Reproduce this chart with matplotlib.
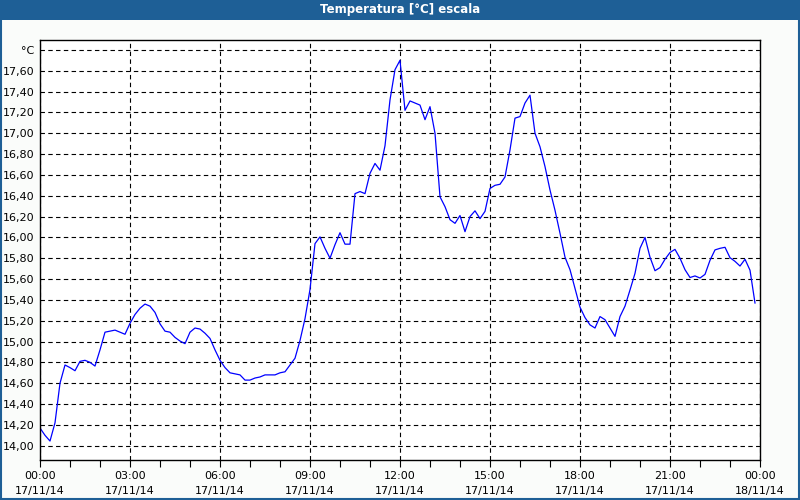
import matplotlib
matplotlib.use("Agg")
import matplotlib.pyplot as plt
from matplotlib.patches import Rectangle

# Readings every 10 minutes, 17/11/14 00:00 .. 23:50
times = [f"{h:02d}:{m:02d}" for h in range(24) for m in range(0, 60, 10)]
temps = [
    14.17, 14.10, 14.045, 14.22, 14.60, 14.775,
    14.75, 14.72, 14.81, 14.82, 14.80, 14.765,
    14.92, 15.09, 15.10, 15.11, 15.09, 15.07,
    15.175, 15.26, 15.32, 15.36, 15.34, 15.28,
    15.17, 15.10, 15.09, 15.04, 15.005, 14.98,
    15.09, 15.13, 15.12, 15.08, 15.03, 14.92,
    14.82, 14.75, 14.70, 14.69, 14.68, 14.63,
    14.63, 14.65, 14.66, 14.68, 14.68, 14.68,
    14.70, 14.71, 14.775, 14.84, 15.01, 15.22,
    15.50, 15.94, 16.005, 15.895, 15.80, 15.93,
    16.045, 15.935, 15.935, 16.42, 16.44, 16.42,
    16.615, 16.71, 16.645, 16.88, 17.32, 17.61,
    17.70, 17.22, 17.31, 17.29, 17.27, 17.13,
    17.255, 17.00, 16.39, 16.295, 16.17, 16.135,
    16.21, 16.055, 16.20, 16.255, 16.18, 16.25,
    16.47, 16.50, 16.51, 16.58, 16.84, 17.145,
    17.16, 17.29, 17.365, 17.00, 16.87, 16.68,
    16.455, 16.26, 16.04, 15.81, 15.69, 15.51,
    15.33, 15.23, 15.16, 15.13, 15.24, 15.21,
    15.13, 15.05, 15.24, 15.34, 15.495, 15.655,
    15.895, 16.00, 15.81, 15.68, 15.71, 15.79,
    15.855, 15.885, 15.80, 15.69, 15.615, 15.63,
    15.61, 15.645, 15.78, 15.88, 15.895, 15.905,
    15.805, 15.77, 15.725, 15.79, 15.685, 15.37,
]

xtick_hours = [0, 3, 6, 9, 12, 15, 18, 21, 24]
xtick_labels = ["00:00\n17/11/14", "03:00\n17/11/14", "06:00\n17/11/14",
                "09:00\n17/11/14", "12:00\n17/11/14", "15:00\n17/11/14",
                "18:00\n17/11/14", "21:00\n17/11/14", "00:00\n18/11/14"]
ytick_vals = [14.0 + 0.2 * i for i in range(20)]
ytick_labels = [f"{v:.2f}".replace(".", ",") for v in ytick_vals[:-1]] + ["°C"]

hours = [int(t[:2]) + int(t[3:]) / 60 for t in times]

plt.rcParams["font.family"] = "DejaVu Sans"
fig = plt.figure(figsize=(8, 5), dpi=100, facecolor="#fafcfa")

# title bar and window border
fig.patches.append(Rectangle((0, 0.96), 1, 0.04, transform=fig.transFigure,
                             facecolor="#1e5f96", edgecolor="none", zorder=0))
fig.patches.append(Rectangle((0.001, 0.002), 0.998, 0.996, transform=fig.transFigure,
                             facecolor="none", edgecolor="#1e5f96", linewidth=1.5, zorder=0))
fig.text(0.5, 0.98, "Temperatura [°C] escala", color="white", fontsize=8.5,
         fontweight="bold", ha="center", va="center")

ax = fig.add_axes([0.05, 0.08, 0.90, 0.84])
ax.set_facecolor("white")
ax.plot(hours, temps, color="#0000ff", linewidth=0.9)

ax.set_xlim(0, 24)
ax.set_ylim(13.863, 17.895)
ax.set_xticks(xtick_hours)
ax.set_xticklabels(xtick_labels, fontsize=8, linespacing=1.55)
ax.set_xticks(range(25), minor=True)
ax.set_yticks(ytick_vals)
ax.set_yticklabels(ytick_labels, fontsize=8)

ax.tick_params(axis="x", which="both", direction="out", length=5, width=0.8, pad=3)
ax.tick_params(axis="y", length=0, pad=4)
ax.grid(True, which="major", color="black", linestyle=(0, (4, 3)), linewidth=0.8)
for s in ax.spines.values():
    s.set_linewidth(1.0)

plt.savefig("out.png", dpi=100, facecolor=fig.get_facecolor())
